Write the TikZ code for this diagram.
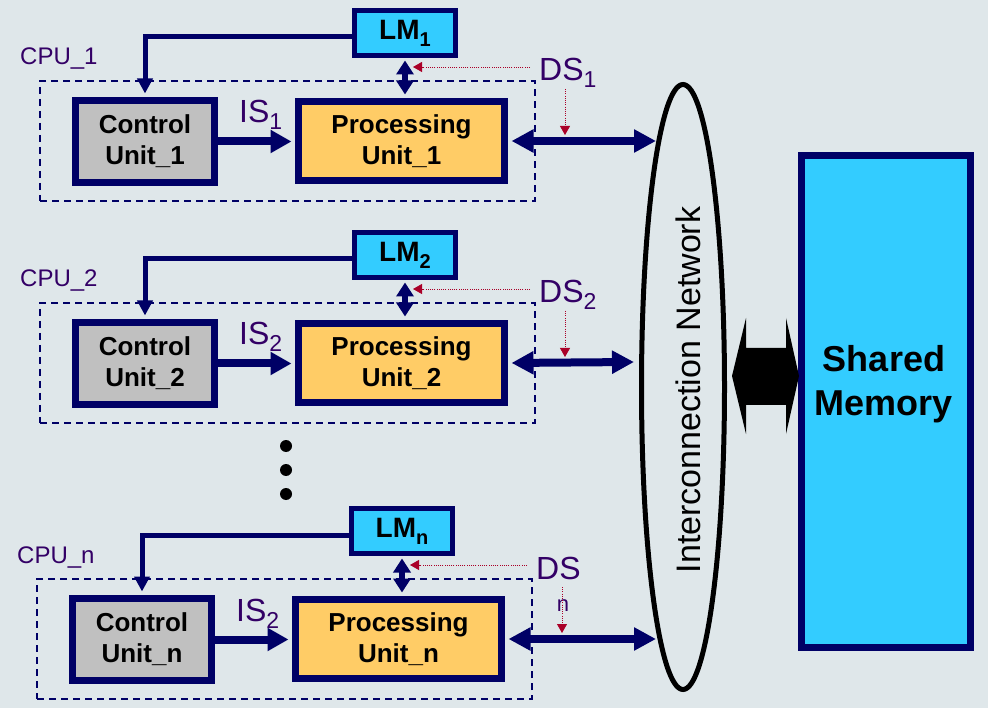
\documentclass[tikz,border=0pt]{standalone}
\usepackage{fontspec}
\setmainfont{Liberation Sans}
\usetikzlibrary{arrows.meta,shapes.geometric,calc}
\definecolor{bg}{RGB}{223,231,234}
\definecolor{navy}{RGB}{0,0,102}
\definecolor{lmblue}{RGB}{51,204,255}
\definecolor{puorange}{RGB}{255,204,102}
\definecolor{cugray}{RGB}{192,192,192}
\definecolor{lblpurple}{RGB}{51,0,102}
\definecolor{dsred}{RGB}{170,0,40}
\newcommand\lmsub[1]{\raisebox{-7pt}{\fontsize{20}{20}\selectfont #1}}
\newcommand\issub[1]{\raisebox{-7pt}{\fontsize{23}{23}\selectfont #1}}
\tikzset{
  unitbox/.style={draw=navy, line width=7pt, inner sep=0pt, align=center,
    font=\bfseries\fontsize{26}{31}\selectfont},
  cubox/.style={unitbox, fill=cugray, minimum width=139pt, minimum height=82pt},
  pubox/.style={unitbox, fill=puorange, minimum width=206pt, minimum height=79pt},
  lmbox/.style={draw=navy, line width=5pt, fill=lmblue, minimum width=101pt,
    minimum height=45pt, inner sep=0pt, font=\bfseries\fontsize{28}{30}\selectfont},
  cpubox/.style={draw=navy, line width=1.4pt, dash pattern=on 7pt off 5pt,
    minimum width=495pt, minimum height=120pt, inner sep=0pt},
  cpulbl/.style={text=lblpurple, font=\fontsize{24}{24}\selectfont, anchor=base west, inner sep=0pt},
  islbl/.style={text=lblpurple, font=\fontsize{32}{32}\selectfont, anchor=base west, inner sep=0pt},
  ctrlarrow/.style={draw=navy, line width=5pt, line join=miter, -{Triangle[length=15pt,width=15pt]}, shorten >=3.5pt},
  isarrow/.style={draw=navy, line width=8pt, -{Triangle[length=21pt,width=22pt]}, shorten >=3.5pt},
  bus/.style={draw=navy, line width=8pt, {Triangle[length=22pt,width=22pt]}-{Triangle[length=22pt,width=22pt]}, shorten <=3.5pt},
  lmbus/.style={draw=navy, line width=6pt, {Triangle[length=14pt,width=17pt]}-{Triangle[length=14pt,width=17pt]}, shorten <=2.5pt, shorten >=3.5pt},
  dsline/.style={draw=dsred, line width=0.8pt, dash pattern=on 1pt off 1.2pt, -{Triangle[length=9pt,width=10pt]}},
  dotn/.style={circle, fill=black, minimum size=12pt, inner sep=0pt},
}
\begin{document}
\begin{tikzpicture}[x=1pt,y=-1pt]
\fill[bg] (0,0) rectangle (988,708);
\useasboundingbox (0,0) rectangle (988,708);

% ---------- Interconnection network and shared memory
\node[draw=black, ellipse, line width=5pt, minimum width=83pt, minimum height=605pt, inner sep=0pt] (net) at (683,387) {};
\node[rotate=90, font=\fontsize{34}{34}\selectfont, inner sep=0pt] (netlbl) at (688,390) {Interconnection Network};
\node[draw=navy, line width=7pt, fill=lmblue, minimum width=169pt, minimum height=492pt, inner sep=0pt] (mem) at (886,401.5) {};
\node[align=center, font=\bfseries\fontsize{36}{44}\selectfont, inner sep=0pt] (memlbl) at (884,384) {Shared\\Memory};
\coordinate (bal) at (732,376);
\coordinate (bar) at (799,376);
\fill[black] (bal) -- ++(14,-58) -- ++(0,30) -- ($(bar)+(-13,-28)$) -- ++(0,-30) -- (bar)
  -- ++(-13,58) -- ++(0,-29) -- ($(bal)+(14,29)$) -- ++(0,29) -- cycle;

\coordinate (e1) at (656,141);
\coordinate (e2) at (634,362);
\coordinate (e3) at (656,639);

% ---------- CPU_1
\begin{scope}
  \node[cpubox] (cpu1) at (287.5,141) {};
  \node[cpulbl] (cpul1) at (20,65) {CPU\_1};
  \node[cubox] (cu1) at (145,141.5) {Control\\Unit\_1};
  \node[pubox] (pu1) at (401.5,141) {Processing\\Unit\_1};
  \node[lmbox] (lm1) at (405,33) {LM\lmsub{1}};
  \node[islbl] (is1) at (239,123) {IS\issub{1}};
  \node[islbl] (ds1) at (539,81) {DS\issub{1}};
  \coordinate (r1a) at (530,67); \coordinate (r1b) at (413,67);
  \coordinate (r1c) at (565,89); \coordinate (r1d) at (565,135);
\end{scope}
\draw[ctrlarrow] ([yshift=-4pt]lm1.west) -| (cu1.north);
\draw[isarrow] (cu1.east) -- (cu1.east -| pu1.west);
\draw[lmbus] (lm1.south) -- (lm1.south |- pu1.north);
\draw[bus] (pu1.east) -- (e1);
\draw[dsline] (r1a) -- (r1b);
\draw[dsline] (r1c) -- (r1d);

% ---------- CPU_2
\begin{scope}[shift={(0,222)}]
  \node[cpubox] (cpu2) at (287.5,141) {};
  \node[cpulbl] (cpul2) at (20,65) {CPU\_2};
  \node[cubox] (cu2) at (145,141.5) {Control\\Unit\_2};
  \node[pubox] (pu2) at (401.5,141) {Processing\\Unit\_2};
  \node[lmbox] (lm2) at (405,33) {LM\lmsub{2}};
  \node[islbl] (is2) at (239,123) {IS\issub{2}};
  \node[islbl] (ds2) at (539,81) {DS\issub{2}};
  \coordinate (r2a) at (530,67); \coordinate (r2b) at (413,67);
  \coordinate (r2c) at (565,89); \coordinate (r2d) at (565,135);
\end{scope}
\draw[ctrlarrow] ([yshift=-4pt]lm2.west) -| (cu2.north);
\draw[isarrow] (cu2.east) -- (cu2.east -| pu2.west);
\draw[lmbus] (lm2.south) -- (lm2.south |- pu2.north);
\draw[bus] (pu2.east) -- (e2);
\draw[dsline] (r2a) -- (r2b);
\draw[dsline] (r2c) -- (r2d);

% ---------- dots
\node[dotn] (d1) at (286,446) {};
\node[dotn] (d2) at (286,470) {};
\node[dotn] (d3) at (286,494) {};

% ---------- CPU_n
\begin{scope}[shift={(-3,498)}]
  \node[cpubox] (cpun) at (287.5,141) {};
  \node[cpulbl] (cpuln) at (20,65) {CPU\_n};
  \node[cubox] (cun) at (145,141.5) {Control\\Unit\_n};
  \node[pubox] (pun) at (401.5,141) {Processing\\Unit\_n};
  \node[lmbox] (lmn) at (405,33) {LM\lmsub{n}};
  \node[islbl] (isn) at (239,123) {IS\issub{2}};
  \node[islbl] (dsn) at (539,81) {DS};
  \coordinate (rna) at (530,67); \coordinate (rnb) at (413,67);
  \coordinate (rnc) at (565,89); \coordinate (rnd) at (565,135);
  \node[text=lblpurple, font=\fontsize{22}{22}\selectfont, inner sep=0pt] (dsnsub) at (566,108) {n};
\end{scope}
\draw[ctrlarrow] ([yshift=-4pt]lmn.west) -| (cun.north);
\draw[isarrow] (cun.east) -- (cun.east -| pun.west);
\draw[lmbus] (lmn.south) -- (lmn.south |- pun.north);
\draw[bus] (pun.east) -- (e3);
\draw[dsline] (rna) -- (rnb);
\draw[dsline] (rnc) -- (rnd);
\end{tikzpicture}
\end{document}
